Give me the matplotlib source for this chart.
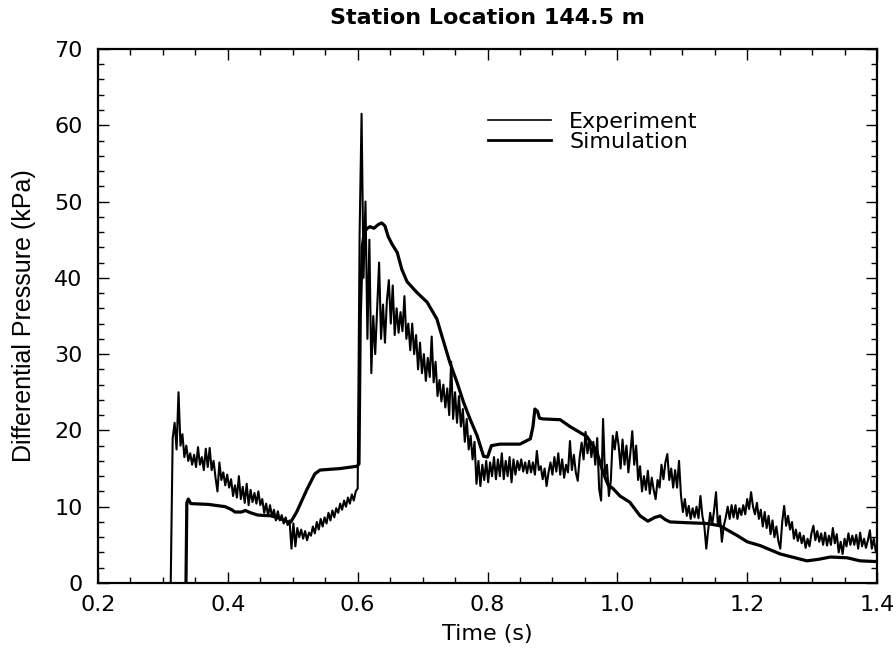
import numpy as np
from matplotlib import pyplot as plt
from matplotlib.lines import Line2D
from matplotlib.ticker import MultipleLocator

exp_start = 0.312
exp_step = 0.003
exp_p = [
    0, 19, 21, 17.5, 25, 18, 19.5, 16.5, 18, 16,
    17, 15.5, 16.8, 15.2, 17.8, 15.5, 16.5, 14.8, 17.6, 15.2,
    17.7, 14.8, 16, 13.8, 12, 15.8, 13.5, 14.5, 12.8, 14.2,
    12.5, 13.6, 11.4, 12.8, 11.2, 14, 11, 12.6, 10.5, 13,
    10.2, 12.2, 10.6, 11.8, 10.4, 12, 10.2, 11, 9.2, 10.4,
    8.8, 10.2, 8.7, 9.6, 8.2, 9.4, 8.2, 8.9, 7.8, 8.6,
    7.6, 8.2, 4.5, 7.8, 4.8, 7.2, 6, 7, 5.8, 6.8,
    5.6, 6.6, 6.2, 7.4, 6.5, 8, 7, 8.4, 7.4, 8.6,
    7.8, 9.2, 8.2, 9.5, 8.6, 9.8, 9.2, 10.4, 9.6, 10.8,
    10, 11.2, 10.4, 11.6, 10.8, 12, 12.4, 46, 61.5, 40,
    50, 32, 45, 27.5, 35, 30, 36, 42, 32, 36.5,
    31.5, 37, 39.7, 34, 39, 32.5, 36, 32.8, 35.5, 33,
    37.6, 32, 34, 30.5, 34, 30, 32.5, 28, 31.5, 27.5,
    30, 26.5, 29.5, 27, 32.3, 26.3, 29, 24.5, 26.6, 23.8,
    26, 23, 25.5, 22, 29, 21.5, 25, 21, 24.5, 20.5,
    22.8, 18.5, 21.5, 17.5, 19.3, 16.2, 18.5, 13, 16, 12.7,
    15.5, 13.5, 16, 13.2, 15.8, 14, 16.5, 13.6, 16.2, 14,
    17, 13.6, 16, 14, 16.5, 13.2, 16.2, 14.2, 16, 14.8,
    16.2, 14.6, 15.8, 14.4, 16, 14.5, 15.8, 14.2, 17.3, 14.8,
    15.3, 13.6, 15, 12.7, 14.5, 15.8, 14.2, 16.5, 14.6, 17,
    14.2, 16.2, 13.8, 15.5, 14.5, 18.6, 14.8, 16.8, 14.5, 13.4,
    16.5, 18.4, 16.2, 19.8, 17, 18.8, 16.5, 18.5, 15.5, 19,
    12.3, 10.8, 21.5, 14, 15.5, 11.4, 13.5, 19.3, 17.5, 19.8,
    18, 15, 18.8, 15.5, 18, 14.5, 17, 19.9, 15.5, 18,
    13.5, 15.3, 12, 14, 12.2, 14.7, 11.7, 13.8, 12.2, 11,
    13.5, 12.5, 15.5, 13.6, 15.8, 16.9, 13.5, 15, 12.5, 14.8,
    12.5, 16, 11.5, 9.3, 11, 8.8, 10.1, 8.4, 9.8, 8.6,
    10, 8.5, 11.4, 8.8, 7.5, 4.5, 7, 9.2, 7.6, 9.5,
    11.9, 7.5, 8.8, 5.4, 7.5, 8.6, 10, 8.4, 10.2, 8.6,
    10.2, 8.4, 9.8, 8.9, 10.2, 9, 11, 9.7, 11.9, 10,
    9, 10.5, 8.4, 9.6, 7.4, 9.3, 7.2, 8.8, 6.4, 8.2,
    6, 7.4, 5.5, 4.5, 8, 10.1, 7.5, 8.8, 7, 8,
    5.8, 7, 5.5, 6.6, 5.2, 6.2, 4.6, 5.8, 4.8, 6.5,
    7.5, 5.6, 6.8, 5.4, 6.5, 5, 6.6, 4.9, 6.2, 5,
    7.2, 5.2, 6.4, 4, 5.4, 3.8, 5.8, 4.8, 6.5, 5,
    6.2, 5, 6.3, 4.5, 6.6, 4.8, 5.8, 4.6, 5.6, 6.9,
    4.5, 5.8, 4.2,
]
exp_t = np.round(exp_start + exp_step * np.arange(len(exp_p)), 4)

# simulation trace (smooth curve)
sim_t = [0.3355, 0.3368, 0.339, 0.343, 0.37, 0.396, 0.406, 0.411, 0.421, 0.427,
         0.435, 0.446, 0.467, 0.482, 0.492, 0.497, 0.506, 0.522, 0.534, 0.542,
         0.573, 0.599, 0.602, 0.604, 0.607, 0.610, 0.615, 0.619, 0.625, 0.632,
         0.637, 0.642, 0.647, 0.653, 0.661, 0.668, 0.676, 0.691, 0.707, 0.722,
         0.730, 0.742, 0.753, 0.763, 0.773, 0.784, 0.794, 0.800, 0.806, 0.819,
         0.850, 0.866, 0.870, 0.873, 0.877, 0.880, 0.886, 0.912, 0.927, 0.953,
         0.968, 0.978, 0.986, 0.993, 1.004, 1.019, 1.035, 1.047, 1.058, 1.066,
         1.074, 1.081, 1.107, 1.138, 1.158, 1.185, 1.200, 1.22, 1.251, 1.292,
         1.310, 1.328, 1.354, 1.374, 1.40]
sim_p = [0, 10.5, 11, 10.4, 10.3, 10.0, 9.6, 9.3, 9.3, 9.5,
         9.2, 8.9, 8.8, 8.4, 8.0, 8.0, 9.3, 12.3, 14.3, 14.8,
         15.0, 15.3, 15.6, 35, 44, 46, 46.5, 46.7, 46.5, 47.0,
         47.2, 46.8, 45.4, 44.4, 43.3, 41.1, 39.5, 38.1, 36.8, 34.6,
         32.3, 28.9, 26.3, 23.7, 21.5, 19.3, 16.6, 16.5, 18, 18.2,
         18.2, 18.9, 20.5, 22.8, 22.5, 21.6, 21.5, 21.4, 20.5, 19.2,
         17.3, 14.5, 12.8, 12.4, 11.4, 10.6, 8.8, 8.1, 8.6, 8.8,
         8.3, 8.0, 7.9, 7.8, 7.5, 6.2, 5.4, 4.9, 3.8, 2.9,
         3.1, 3.4, 3.3, 2.9, 2.8]

x_ticks = [0.2, 0.4, 0.6, 0.8, 1.0, 1.2, 1.4]
x_labels = ["0.2", "0.4", "0.6", "0.8", "1.0", "1.2", "1.4"]
y_ticks = [0, 10, 20, 30, 40, 50, 60, 70]

plt.rcParams['font.family'] = ['DejaVu Sans']

fig = plt.figure(figsize=(8.96, 6.51), dpi=100)
ax = fig.add_axes([0.1094, 0.1045, 0.8694, 0.8203])

ax.plot(exp_t, exp_p, color='black', linewidth=1.5)
ax.plot(sim_t, sim_p, color='black', linewidth=2.3)

ax.set_xlim(0.2, 1.4)
ax.set_ylim(0, 70)
ax.set_xticks(x_ticks)
ax.set_xticklabels(x_labels)
ax.set_yticks(y_ticks)
ax.xaxis.set_minor_locator(MultipleLocator(0.05))
ax.yaxis.set_minor_locator(MultipleLocator(2))
ax.tick_params(which='both', direction='in', top=True, right=True, width=1.0)
ax.tick_params(which='major', length=8, labelsize=16)
ax.tick_params(which='minor', length=4)
ax.tick_params(axis='x', pad=9)
ax.tick_params(axis='y', pad=11)
for s in ax.spines.values():
    s.set_linewidth(1.6)

ax.set_xlabel("Time (s)", fontsize=16, labelpad=6)
ax.set_ylabel("Differential Pressure (kPa)", fontsize=18, labelpad=13,
              family=['Liberation Sans Narrow', 'Liberation Sans'])
ax.set_title("Station Location 144.5 m", fontsize=16, fontweight='bold', pad=18)

handles = [Line2D([], [], color='black', linewidth=1.2),
           Line2D([], [], color='black', linewidth=2.0)]
ax.legend(handles, ["Experiment", "Simulation"], loc='upper left',
          bbox_to_anchor=(0.475, 0.92), frameon=False, fontsize=16,
          handlelength=2.85, handletextpad=0.8, labelspacing=0.0)

fig.savefig("out.png", dpi=100)
